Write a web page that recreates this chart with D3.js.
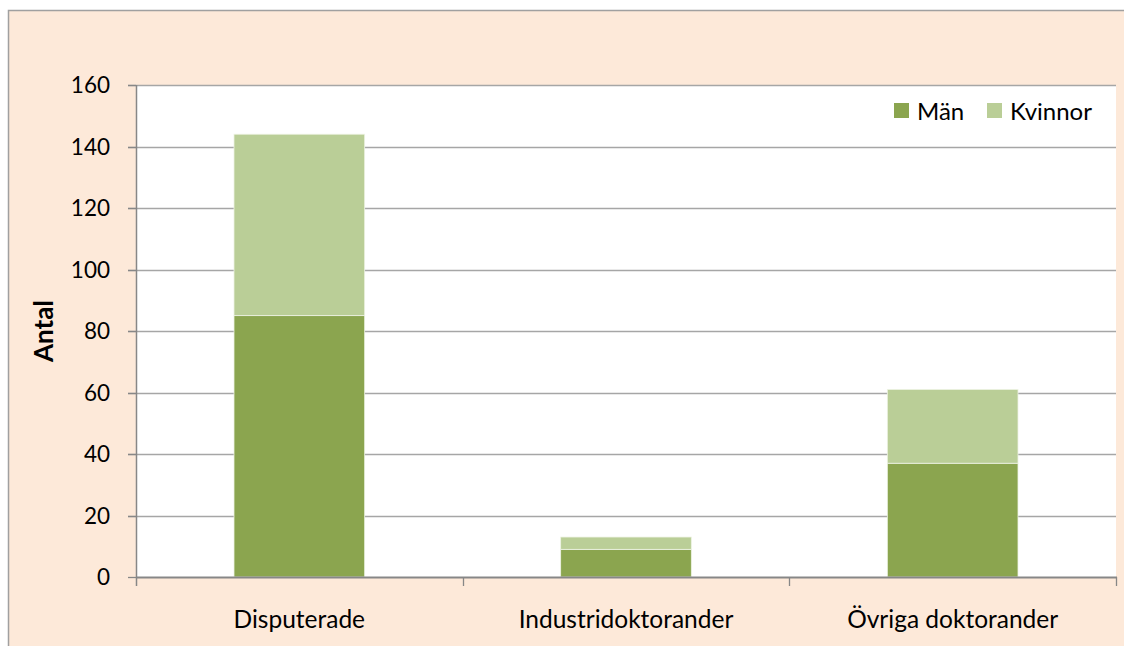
<!DOCTYPE html>
<html>
<head>
<meta charset="utf-8">
<script src="https://cdn.jsdelivr.net/npm/d3@7"></script>
<style>
  body { margin: 0; background: #ffffff; }
  svg text { font-family: Lato, "Open Sans", sans-serif; fill: #000; }
</style>
</head>
<body>
<div id="chart"></div>
<script>
// data
var categories = ["Disputerade", "Industridoktorander", "Övriga doktorander"];
var man = [85, 9, 37];
var kvinnor = [59, 4, 24];
var seriesNames = ["Män", "Kvinnor"];
var yTicks = [0, 20, 40, 60, 80, 100, 120, 140, 160];

// style
var bgcolor = "#FDE9D9";
var colors = ["#8BA54F", "#BACE97"];
var gridcolor = "#A6A6A6";
var axiscolor = "#878787";

var W = 1124, H = 646;
var plot = { left: 136, top: 85, right: 1116, bottom: 577 };

var svg = d3.select("#chart").append("svg")
  .attr("width", W)
  .attr("height", H);

// chart frame
svg.append("rect")
  .attr("x", 8.5).attr("y", 10.5)
  .attr("width", W + 10).attr("height", H + 10)
  .attr("fill", bgcolor)
  .attr("stroke", "#A0A0A0")
  .attr("stroke-width", 1.5);

// plot area
svg.append("rect")
  .attr("x", plot.left).attr("y", plot.top)
  .attr("width", plot.right - plot.left)
  .attr("height", plot.bottom - plot.top)
  .attr("fill", "#ffffff");

var x = d3.scaleBand()
  .domain(categories)
  .range([plot.left, plot.right])
  .paddingInner(0.6)
  .paddingOuter(0.3);

var xOuter = d3.scaleBand()
  .domain(categories)
  .range([plot.left, plot.right]);

var y = d3.scaleLinear()
  .domain([0, 160])
  .range([plot.bottom, plot.top]);

// gridlines
svg.append("g")
  .selectAll("line")
  .data(yTicks.filter(function(d) { return d > 0; }))
  .enter().append("line")
  .attr("x1", plot.left - 8).attr("x2", plot.right)
  .attr("y1", function(d) { return Math.round(y(d)) + 0.5; })
  .attr("y2", function(d) { return Math.round(y(d)) + 0.5; })
  .attr("stroke", gridcolor)
  .attr("stroke-width", 1.3);

// stacked bars
var stackData = categories.map(function(c, i) {
  return { cat: c, "Män": man[i], "Kvinnor": kvinnor[i] };
});
var stacked = d3.stack().keys(seriesNames)(stackData);

svg.append("g")
  .selectAll("g")
  .data(stacked)
  .enter().append("g")
  .attr("fill", function(d, i) { return colors[i]; })
  .selectAll("rect")
  .data(function(d) { return d; })
  .enter().append("rect")
  .attr("x", function(d) { return x(d.data.cat); })
  .attr("width", x.bandwidth())
  .attr("y", function(d) { return y(d[1]); })
  .attr("height", function(d) { return y(d[0]) - y(d[1]); })
  .attr("stroke", "#EEF3E4")
  .attr("stroke-width", 0.8);

// y axis
svg.append("line")
  .attr("x1", plot.left + 0.5).attr("x2", plot.left + 0.5)
  .attr("y1", plot.top).attr("y2", plot.bottom + 9)
  .attr("stroke", axiscolor).attr("stroke-width", 1.5);

svg.append("g")
  .selectAll("line")
  .data(yTicks)
  .enter().append("line")
  .attr("x1", plot.left - 8).attr("x2", plot.left)
  .attr("y1", function(d) { return Math.round(y(d)) + 0.5; })
  .attr("y2", function(d) { return Math.round(y(d)) + 0.5; })
  .attr("stroke", axiscolor).attr("stroke-width", 1.3);

svg.append("g")
  .selectAll("text")
  .data(yTicks)
  .enter().append("text")
  .attr("x", 110)
  .attr("y", function(d) { return y(d); })
  .attr("dy", "0.36em")
  .attr("text-anchor", "end")
  .style("font-size", "22.5px")
  .text(function(d) { return d; });

// x axis
svg.append("line")
  .attr("x1", plot.left).attr("x2", plot.right + 1)
  .attr("y1", plot.bottom + 0.5).attr("y2", plot.bottom + 0.5)
  .attr("stroke", axiscolor).attr("stroke-width", 2);

var bounds = categories.map(function(c) { return xOuter(c) + xOuter.bandwidth(); });
svg.append("g")
  .selectAll("line")
  .data(bounds)
  .enter().append("line")
  .attr("x1", function(d) { return Math.round(d) + 0.5; })
  .attr("x2", function(d) { return Math.round(d) + 0.5; })
  .attr("y1", plot.bottom).attr("y2", plot.bottom + 9)
  .attr("stroke", axiscolor).attr("stroke-width", 1.3);

svg.append("g")
  .selectAll("text")
  .data(categories)
  .enter().append("text")
  .attr("x", function(d) { return xOuter(d) + xOuter.bandwidth() / 2; })
  .attr("y", 628)
  .attr("text-anchor", "middle")
  .style("font-size", "24.5px")
  .text(function(d) { return d; });

// y axis title
svg.append("text")
  .attr("transform", "translate(53," + ((plot.top + plot.bottom) / 2) + ") rotate(-90)")
  .attr("text-anchor", "middle")
  .style("font-size", "26px")
  .style("font-weight", "bold")
  .text("Antal");

// legend
var legendX = [894, 987];
var legend = svg.append("g")
  .selectAll("g")
  .data(seriesNames)
  .enter().append("g")
  .attr("transform", function(d, i) { return "translate(" + legendX[i] + ",103)"; });

legend.append("rect")
  .attr("width", 15).attr("height", 15)
  .attr("fill", function(d, i) { return colors[i]; });

legend.append("text")
  .attr("x", 23).attr("y", 8)
  .attr("dy", "0.36em")
  .style("font-size", "24px")
  .text(function(d) { return d; });
</script>
</body>
</html>
